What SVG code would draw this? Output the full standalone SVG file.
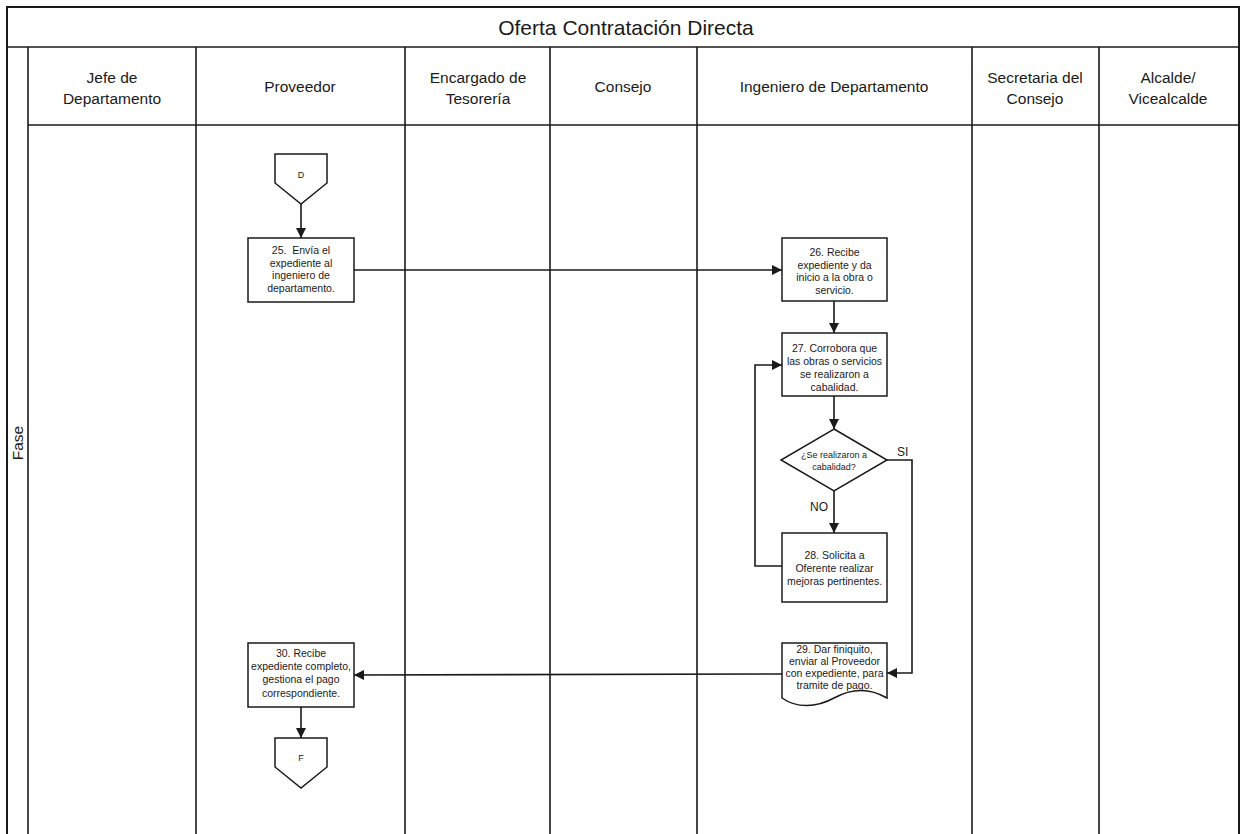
<svg xmlns="http://www.w3.org/2000/svg" width="1245" height="834" viewBox="0 0 1245 834">
  <style>
    .frame { fill: none; stroke: #1a1a1a; stroke-width: 2; }
    .lane { fill: none; stroke: #1a1a1a; stroke-width: 1.6; }
    .shape { fill: #ffffff; stroke: #1a1a1a; stroke-width: 1.5; }
    .conn { fill: none; stroke: #1a1a1a; stroke-width: 1.6; }
    .title { font-family: "Liberation Sans", Arial, sans-serif; font-size: 21px; fill: #1a1a1a; text-anchor: middle; }
    .head { font-family: "Liberation Sans", Arial, sans-serif; font-size: 15.5px; fill: #1a1a1a; text-anchor: middle; }
    .lbl { font-family: "Liberation Sans", Arial, sans-serif; font-size: 10.5px; fill: #1a1a1a; text-anchor: middle; }
    .small { font-family: "Liberation Sans", Arial, sans-serif; font-size: 9px; fill: #1a1a1a; text-anchor: middle; }
    .yn { font-family: "Liberation Sans", Arial, sans-serif; font-size: 12px; fill: #1a1a1a; }
  </style>
  <defs>
    <marker id="arrow" viewBox="0 0 10 10" refX="10" refY="5" markerWidth="10" markerHeight="10" markerUnits="userSpaceOnUse" orient="auto">
      <path d="M0,0 L10,5 L0,10 Z" fill="#1a1a1a"/>
    </marker>
  </defs>

  <rect x="0" y="0" width="1245" height="834" fill="#ffffff"/>

  <!-- swimlane frame -->
  <g id="lanes">
    <path class="frame" d="M7,840 V7 H1239 V840"/>
    <line class="lane" x1="7" y1="47" x2="1239" y2="47"/>
    <line class="lane" x1="28" y1="125" x2="1239" y2="125"/>
    <line class="lane" x1="28" y1="47" x2="28" y2="840"/>
    <line class="lane" x1="196" y1="47" x2="196" y2="840"/>
    <line class="lane" x1="405" y1="47" x2="405" y2="840"/>
    <line class="lane" x1="550" y1="47" x2="550" y2="840"/>
    <line class="lane" x1="697" y1="47" x2="697" y2="840"/>
    <line class="lane" x1="972" y1="47" x2="972" y2="840"/>
    <line class="lane" x1="1099" y1="47" x2="1099" y2="840"/>
    <text class="title" x="626" y="35">Oferta Contratación Directa</text>
    <text class="head" x="112" y="83">Jefe de</text>
    <text class="head" x="112" y="104">Departamento</text>
    <text class="head" x="300" y="92">Proveedor</text>
    <text class="head" x="478" y="83">Encargado de</text>
    <text class="head" x="478" y="104">Tesorería</text>
    <text class="head" x="623" y="92">Consejo</text>
    <text class="head" x="834" y="92">Ingeniero de Departamento</text>
    <text class="head" x="1035" y="83">Secretaria del</text>
    <text class="head" x="1035" y="104">Consejo</text>
    <text class="head" x="1168" y="83">Alcalde/</text>
    <text class="head" x="1168" y="104">Vicealcalde</text>
    <text class="head" transform="translate(23,443) rotate(-90)">Fase</text>
  </g>

  <!-- connectors -->
  <g id="connectors">
    <line class="conn" x1="301" y1="204" x2="301" y2="238" marker-end="url(#arrow)"/>
    <line class="conn" x1="354" y1="270" x2="782" y2="270" marker-end="url(#arrow)"/>
    <line class="conn" x1="834" y1="301" x2="834" y2="333" marker-end="url(#arrow)"/>
    <line class="conn" x1="834" y1="396" x2="834" y2="429" marker-end="url(#arrow)"/>
    <line class="conn" x1="834" y1="491" x2="834" y2="533" marker-end="url(#arrow)"/>
    <polyline class="conn" points="782,566 755,566 755,365 782,365" marker-end="url(#arrow)"/>
    <polyline class="conn" points="887,460 912,460 912,673 887,673" marker-end="url(#arrow)"/>
    <line class="conn" x1="782" y1="674" x2="354" y2="675" marker-end="url(#arrow)"/>
    <line class="conn" x1="301" y1="707" x2="301" y2="738" marker-end="url(#arrow)"/>
    <text class="yn" x="828" y="511" text-anchor="end">NO</text>
    <text class="yn" x="897" y="456">SI</text>
  </g>

  <g id="nodeD">
    <path class="shape" d="M275,154 H327 V183 L301,204 L275,183 Z"/>
    <text class="small" x="301" y="178">D</text>
  </g>

  <g id="node25">
    <rect class="shape" x="248" y="238" width="106" height="64"/>
    <text class="lbl" x="301" y="254" xml:space="preserve">25.  Envía el</text>
    <text class="lbl" x="301" y="267">expediente al</text>
    <text class="lbl" x="301" y="279">ingeniero de</text>
    <text class="lbl" x="301" y="292">departamento.</text>
  </g>

  <g id="node26">
    <rect class="shape" x="782" y="238" width="105" height="63"/>
    <text class="lbl" x="834.5" y="256">26. Recibe</text>
    <text class="lbl" x="834.5" y="269">expediente y da</text>
    <text class="lbl" x="834.5" y="281">inicio a la obra o</text>
    <text class="lbl" x="834.5" y="294">servicio.</text>
  </g>

  <g id="node27">
    <rect class="shape" x="782" y="333" width="105" height="63"/>
    <text class="lbl" x="834.5" y="352">27. Corrobora que</text>
    <text class="lbl" x="834.5" y="365">las obras o servicios</text>
    <text class="lbl" x="834.5" y="378">se realizaron a</text>
    <text class="lbl" x="834.5" y="391">cabalidad.</text>
  </g>

  <g id="decision">
    <path class="shape" d="M834,429 L887,460 L834,491 L781,460 Z"/>
    <text class="small" x="834" y="458">¿Se realizaron a</text>
    <text class="small" x="834" y="470">cabalidad?</text>
  </g>

  <g id="node28">
    <rect class="shape" x="782" y="533" width="105" height="69"/>
    <text class="lbl" x="834.5" y="559">28. Solicita a</text>
    <text class="lbl" x="834.5" y="572">Oferente realizar</text>
    <text class="lbl" x="834.5" y="585">mejoras pertinentes.</text>
  </g>

  <g id="node29">
    <path class="shape" d="M782,643 H887 V698 C870,688 852,688 834,698 C816,708 796,708 782,698 Z"/>
    <text class="lbl" x="834.5" y="653">29. Dar finiquito,</text>
    <text class="lbl" x="834.5" y="665">enviar al Proveedor</text>
    <text class="lbl" x="834.5" y="677">con expediente, para</text>
    <text class="lbl" x="834.5" y="689">tramite de pago.</text>
  </g>

  <g id="node30">
    <rect class="shape" x="248" y="643" width="106" height="64"/>
    <text class="lbl" x="301" y="657">30. Recibe</text>
    <text class="lbl" x="301" y="670">expediente completo,</text>
    <text class="lbl" x="301" y="683">gestiona el pago</text>
    <text class="lbl" x="301" y="697">correspondiente.</text>
  </g>

  <g id="nodeF">
    <path class="shape" d="M275,738 H327 V767 L301,788 L275,767 Z"/>
    <text class="small" x="301" y="761">F</text>
  </g>
</svg>
